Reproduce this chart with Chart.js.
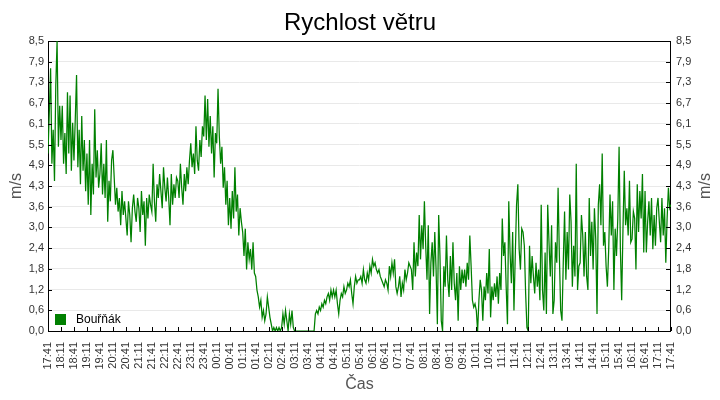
<!DOCTYPE html>
<html>
<head>
<meta charset="utf-8">
<script src="https://cdn.jsdelivr.net/npm/chart.js@4.4.1/dist/chart.umd.min.js"></script>
<style>
  body { margin: 0; background: #fff; }
  #wrap { width: 720px; height: 400px; }
</style>
</head>
<body>
<div id="wrap"><canvas id="chart" width="720" height="400"></canvas></div>
<script>
const chartTitle = 'Rychlost větru';
const seriesName = 'Bouřňák';
const unit = 'm/s';
const xTitle = 'Čas';
const stepMinutes = 3;
const yMax = 8.5;

const timeLabels = ['17:41','18:11','18:41','19:11','19:41','20:11','20:41','21:11','21:41','22:11',
  '22:41','23:11','23:41','00:11','00:41','01:11','01:41','02:11','02:41','03:11','03:41','04:11',
  '04:41','05:11','05:41','06:11','06:41','07:11','07:41','08:11','08:41','09:11','09:41','10:11',
  '10:41','11:11','11:41','12:11','12:41','13:11','13:41','14:11','14:41','15:11','15:41','16:11',
  '16:41','17:11','17:41'];

const yTickLabels = ['0,0','0,6','1,2','1,8','2,4','3,0','3,6','4,3','4,9','5,5','6,1','6,7','7,3','7,9','8,5'];

// one value every 3 minutes, 17:41 -> 17:41
const windSpeed = [
  5.2, 6.4, 7.7, 4.9, 5.9, 4.4, 7.2, 8.5, 5.4, 6.6,
  5.6, 6.6, 4.9, 5.8, 4.6, 7.0, 5.2, 6.9, 4.7, 6.1,
  5.0, 6.2, 7.5, 4.8, 5.9, 4.3, 6.3, 4.7, 5.6, 4.1,
  5.2, 3.7, 5.6, 3.4, 4.9, 4.0, 6.5, 4.5, 5.3, 4.2,
  4.6, 5.5, 4.0, 4.9, 3.9, 5.6, 3.2, 4.4, 3.8, 5.0,
  5.3, 4.5, 3.7, 4.2, 3.5, 3.9, 3.1, 4.1, 3.4, 3.8,
  3.3, 2.8, 3.8, 3.4, 2.6, 3.6, 4.0, 3.5, 3.2, 3.9,
  3.6, 2.9, 4.1, 3.4, 3.8, 2.5, 3.9, 3.3, 4.0, 3.7,
  3.5, 4.9, 3.8, 3.2, 4.3, 3.9, 4.6, 4.1, 3.6, 4.8,
  4.2, 3.8, 4.5, 3.9, 3.1, 4.6, 3.7, 4.3, 3.9, 4.5,
  4.4, 3.9, 4.9, 4.2, 3.7, 4.6, 4.1, 4.8, 4.3, 5.0,
  5.5, 4.8, 5.2, 4.6, 6.0, 5.0, 4.7, 5.6, 5.1, 6.0,
  5.7, 6.9, 5.6, 6.8, 5.4, 6.3, 5.2, 6.0, 4.5, 5.8,
  5.5, 7.1, 5.7, 4.9, 5.4, 4.2, 4.8, 3.7, 4.4, 3.1,
  3.9, 3.0, 4.1, 3.3, 4.8, 3.5, 4.0, 2.8, 3.6, 3.2,
  2.9, 2.2, 3.0, 1.8, 2.6, 2.1, 2.4, 1.8, 2.6, 1.7,
  1.6, 1.2, 1.0, 0.7, 0.9, 0.4, 0.6, 0.3, 0.5, 1.0,
  0.7, 0.4, 0.2, 0.0, 0.1, 0.0, 0.1, 0.0, 0.1, 0.0,
  0.1, 0.5, 0.2, 0.6, 0.3, 0.0, 0.5, 0.2, 0.6, 0.1,
  0.0, 0.0, 0.0, 0.0, 0.0, 0.0, 0.0, 0.0, 0.0, 0.0,
  0.0, 0.0, 0.0, 0.0, 0.0, 0.0, 0.5, 0.6, 0.5, 0.7,
  0.6, 0.8, 0.7, 0.9, 0.8, 1.0, 1.1, 0.9, 1.2, 1.0,
  1.2, 1.0, 1.2, 0.8, 0.5, 0.9, 1.1, 1.0, 1.3, 1.1,
  1.2, 1.4, 1.3, 1.5, 1.1, 0.8, 1.3, 1.6, 1.4, 1.5,
  1.5, 1.6, 1.4, 1.8, 1.5, 1.4, 1.7, 1.5, 1.9, 1.7,
  2.1, 1.9, 2.0, 1.8, 1.7, 1.8, 1.6, 1.5, 1.4, 1.3,
  1.5, 1.4, 1.2, 1.9, 1.6, 2.0, 1.7, 2.1, 1.3, 1.1,
  1.3, 1.6, 1.0, 1.4, 1.2, 1.8, 1.5, 1.7, 2.0, 1.9,
  1.8, 1.2, 2.6, 1.6, 2.3, 1.9, 3.4, 2.1, 3.1, 2.4,
  3.8, 2.5, 1.5, 3.1, 0.5, 2.0, 2.6, 1.6, 2.9, 1.8,
  0.2, 3.4, 2.2, 0.3, 0.0, 1.9, 1.3, 2.8, 1.5, 1.0,
  2.2, 1.2, 2.6, 1.4, 0.9, 1.7, 0.3, 1.9, 1.2, 1.8,
  1.4, 1.8, 1.3, 2.0, 1.5, 2.8, 1.9, 0.9, 0.7, 0.8,
  0.6, 0.0, 0.9, 1.5, 1.2, 0.3, 1.3, 0.9, 1.7, 1.1,
  2.4, 0.4, 1.3, 0.9, 1.4, 1.0, 1.6, 0.8, 1.7, 1.2,
  3.3, 2.2, 2.6, 1.3, 0.2, 3.8, 2.3, 1.4, 2.9, 0.6,
  2.2, 3.7, 4.3, 2.4, 1.8, 3.0, 2.9, 2.5, 1.1, 0.1,
  0.0, 2.5, 1.4, 2.2, 1.6, 1.1, 2.0, 1.3, 1.8, 0.9,
  3.7, 1.2, 0.6, 2.3, 0.5, 3.7, 2.6, 1.6, 3.1, 0.5,
  0.9, 2.6, 2.0, 4.2, 2.2, 0.6, 0.3, 2.0, 3.5, 1.5,
  2.9, 1.8, 4.0, 3.2, 1.3, 2.5, 1.6, 4.9, 1.2, 1.9,
  2.0, 3.4, 2.8, 1.6, 2.9, 1.6, 1.2, 3.9, 2.2, 3.2,
  1.8, 3.6, 2.7, 0.5, 3.7, 4.3, 3.1, 5.2, 2.5, 2.9,
  1.9, 1.3, 2.4, 4.0, 2.8, 3.8, 1.2, 3.0, 2.2, 3.3,
  5.4, 2.4, 0.9, 3.0, 4.7, 3.1, 3.6, 2.8, 4.4, 2.6,
  2.7, 3.5, 3.3, 1.8, 4.3, 2.9, 4.1, 3.3, 4.6, 2.3,
  4.1, 2.3, 3.2, 3.8, 2.8, 3.9, 2.4, 3.4, 2.5, 3.6,
  3.9, 3.2, 2.6, 3.9, 2.8, 3.6, 2.0, 3.3, 4.2, 3.6,
  3.7
];

const fontFamily = '"Liberation Sans", Arial, sans-serif';
Chart.defaults.font.family = fontFamily;

function setYTicks(scale) {
  scale.ticks = yTickLabels.map((l, i) => ({ value: i * yMax / (yTickLabels.length - 1) }));
}

// frame, inner tick marks, legend box and right axis title
const framePlugin = {
  id: 'frame',
  beforeDatasetsDraw(chart) {
    const { ctx, chartArea: a } = chart;
    ctx.save();
    ctx.strokeStyle = '#000';
    ctx.lineWidth = 1;
    ctx.strokeRect(a.left + 0.5, a.top + 0.5, a.right - a.left - 1, a.bottom - a.top);
    ctx.restore();
  },
  afterDatasetsDraw(chart) {
    const { ctx, chartArea: a, scales } = chart;
    ctx.save();
    ctx.strokeStyle = '#000';
    ctx.lineWidth = 1;
    ctx.beginPath();
    scales.x.ticks.forEach((t, i) => {
      const px = Math.round(scales.x.getPixelForTick(i)) + 0.5;
      ctx.moveTo(px, a.bottom);
      ctx.lineTo(px, a.bottom - 4);
    });
    scales.y.ticks.forEach((t, i) => {
      const py = Math.round(scales.y.getPixelForTick(i)) + 0.5;
      ctx.moveTo(a.left, py);
      ctx.lineTo(a.left + 4, py);
      ctx.moveTo(a.right, py);
      ctx.lineTo(a.right - 5, py);
    });
    ctx.stroke();

    const ds = chart.data.datasets[0];
    ctx.fillStyle = ds.borderColor;
    ctx.fillRect(a.left + 7, a.bottom - 17, 11, 11);
    ctx.fillStyle = '#000';
    ctx.font = '12px ' + fontFamily;
    ctx.textBaseline = 'middle';
    ctx.fillText(ds.label, a.left + 28, a.bottom - 11);

    const r = scales.y2;
    ctx.translate(r.right - 14, (a.top + a.bottom) / 2);
    ctx.rotate(-Math.PI / 2);
    ctx.fillStyle = '#555';
    ctx.font = '16px ' + fontFamily;
    ctx.textAlign = 'center';
    ctx.fillText(unit, 0, 0);
    ctx.restore();
  }
};

const ctx = document.getElementById('chart').getContext('2d');
new Chart(ctx, {
  type: 'line',
  data: {
    datasets: [{
      label: seriesName,
      data: windSpeed.map((v, i) => ({ x: i * stepMinutes, y: v })),
      borderColor: '#008000',
      backgroundColor: '#008000',
      borderWidth: 1.25,
      pointRadius: 0,
      tension: 0,
      fill: false
    }]
  },
  options: {
    responsive: false,
    animation: false,
    devicePixelRatio: 1,
    layout: { padding: 0 },
    plugins: {
      legend: { display: false },
      tooltip: { enabled: false },
      title: {
        display: true,
        text: chartTitle,
        color: '#000',
        font: { size: 24, weight: 'normal' },
        padding: { top: 9, bottom: 3.2 }
      }
    },
    scales: {
      x: {
        type: 'linear',
        min: 0,
        max: (timeLabels.length - 1) * 30,
        afterBuildTicks: (s) => { s.ticks = timeLabels.map((l, i) => ({ value: i * 30 })); },
        afterFit: (s) => { s.height = 69; },
        grid: { display: false },
        border: { display: false },
        ticks: {
          autoSkip: false,
          minRotation: 90,
          maxRotation: 90,
          padding: 3,
          color: '#333',
          font: { size: 11 },
          callback: (v, i) => timeLabels[i]
        },
        title: {
          display: true,
          text: xTitle,
          color: '#555',
          font: { size: 16 },
          padding: { top: 0, bottom: 6 }
        }
      },
      y: {
        position: 'left',
        min: 0,
        max: yMax,
        afterBuildTicks: setYTicks,
        afterFit: (s) => { s.width = 48; },
        grid: { color: '#e9e9e9', drawTicks: false },
        border: { display: false },
        ticks: {
          padding: 4,
          color: '#333',
          font: { size: 11 },
          callback: (v, i) => yTickLabels[i]
        },
        title: {
          display: true,
          text: unit,
          color: '#555',
          font: { size: 16 },
          padding: { top: 7.4, bottom: 0 }
        }
      },
      y2: {
        position: 'right',
        min: 0,
        max: yMax,
        afterBuildTicks: setYTicks,
        afterFit: (s) => { s.width = 49; },
        grid: { drawOnChartArea: false, drawTicks: false },
        border: { display: false },
        ticks: {
          padding: 5,
          color: '#333',
          font: { size: 11 },
          callback: (v, i) => yTickLabels[i]
        }
      }
    }
  },
  plugins: [framePlugin]
});
</script>
</body>
</html>
